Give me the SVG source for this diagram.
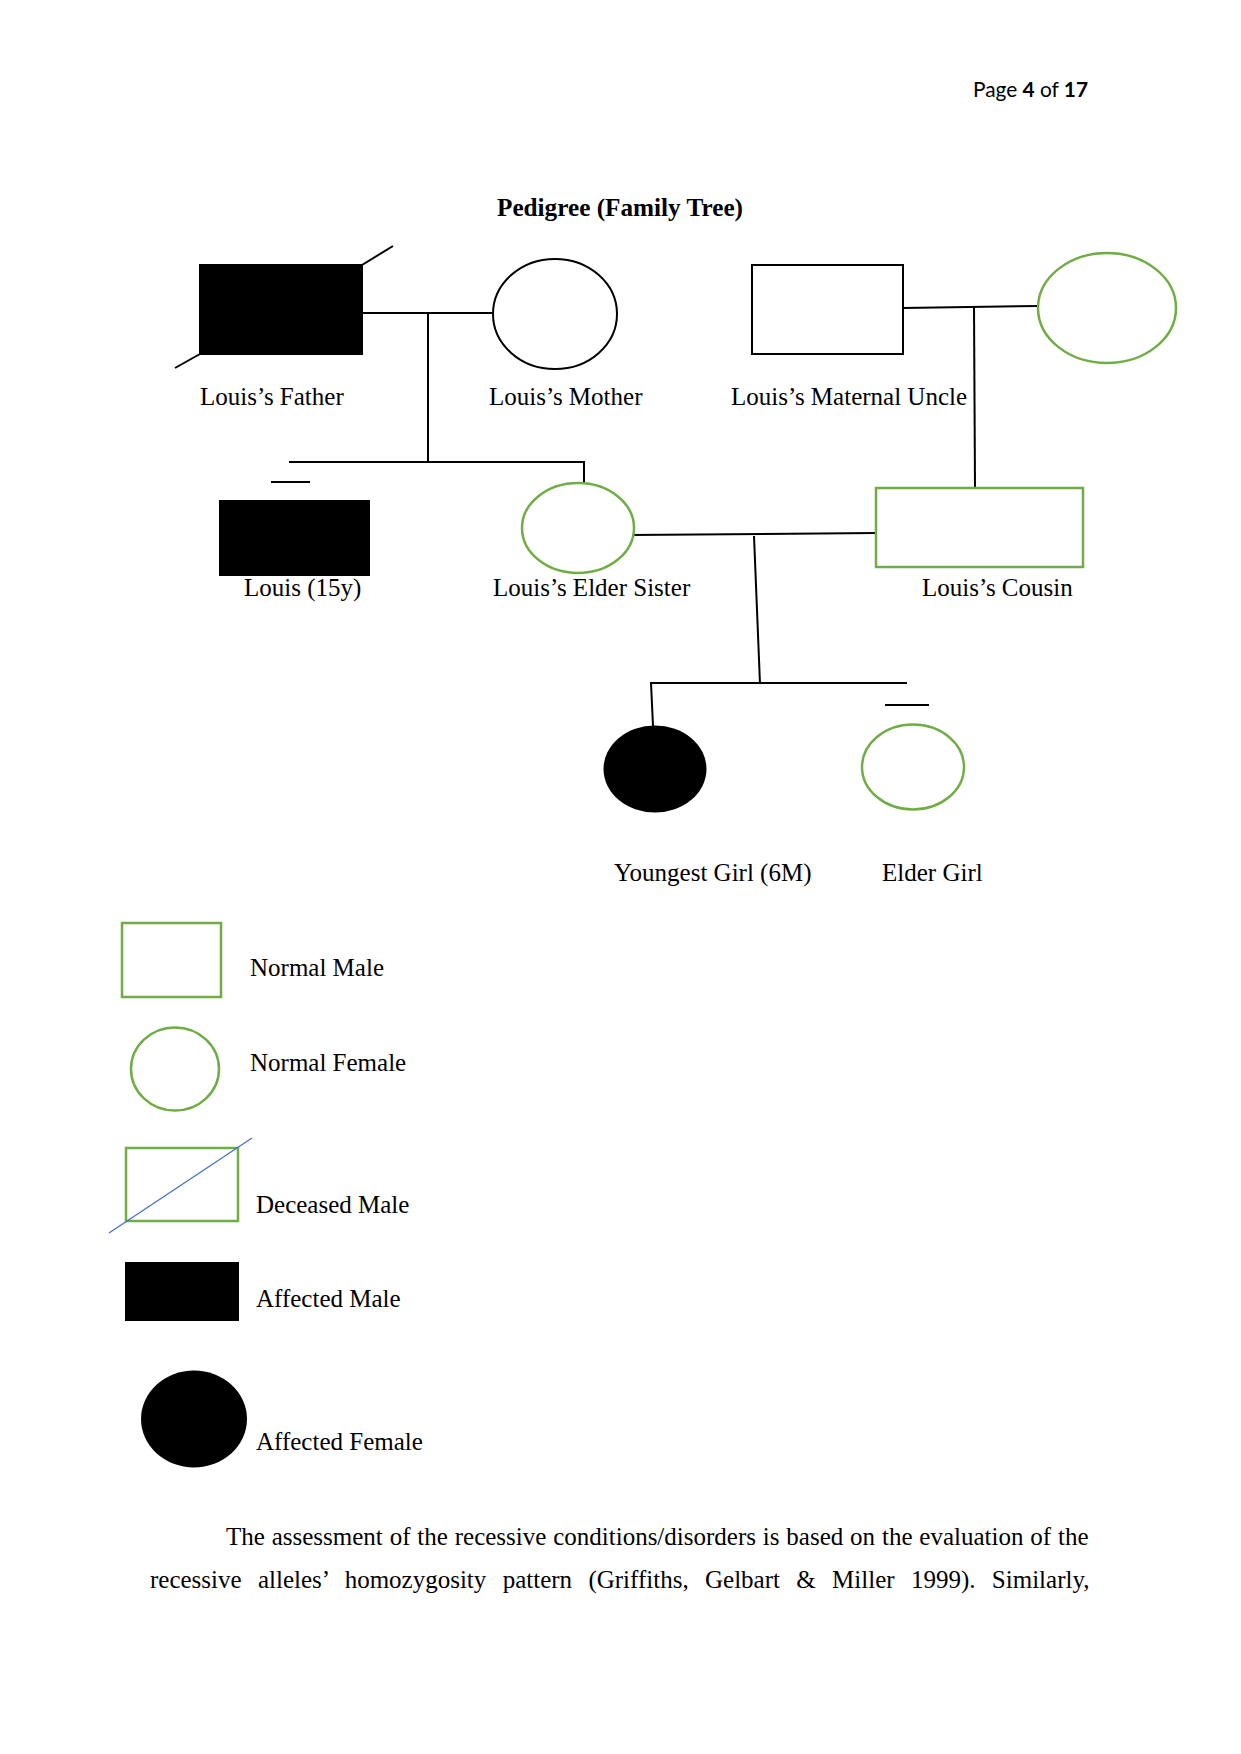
<svg xmlns="http://www.w3.org/2000/svg" width="1241" height="1754" viewBox="0 0 1241 1754">
<style>
.t{font-family:"Liberation Serif","Times New Roman",serif;font-size:25px;fill:#000}
.b{font-weight:bold}
.hd{font-family:Lato,"Liberation Sans",sans-serif;font-size:21px;fill:#000}
.ln{stroke:#000;stroke-width:2;fill:none}
.g{stroke:#70AD47;stroke-width:2.5;fill:#fff}
.k{stroke:#000;stroke-width:2;fill:#fff}
.f{fill:#000;stroke:none}
</style>
<rect width="1241" height="1754" fill="#fff"/>
<text class="hd" x="973" y="97" textLength="115" lengthAdjust="spacingAndGlyphs">Page <tspan font-weight="bold">4</tspan> of <tspan font-weight="bold">17</tspan></text>
<text class="t b" x="497" y="216" textLength="246" lengthAdjust="spacingAndGlyphs">Pedigree (Family Tree)</text>

<g id="connectors">
  <line class="ln" x1="363" y1="313" x2="493" y2="313"/>
  <line class="ln" x1="428" y1="313" x2="428" y2="462"/>
  <polyline class="ln" points="289,462 584,462 584,484"/>
  <line class="ln" x1="903" y1="308" x2="1038" y2="306"/>
  <line class="ln" x1="974" y1="307" x2="975" y2="488"/>
  <line class="ln" x1="630" y1="535" x2="877" y2="533"/>
  <line class="ln" x1="754" y1="536" x2="760" y2="684"/>
  <polyline class="ln" points="653,726 651,683 907,683"/>
</g>

<g id="father">
  <rect class="f" x="199" y="264" width="164" height="91"/>
  <line class="ln" x1="362" y1="265" x2="393" y2="246"/>
  <line class="ln" x1="200" y1="354" x2="175" y2="368"/>
  <text class="t" x="200" y="405">Louis’s Father</text>
</g>
<g id="mother">
  <ellipse class="k" cx="555" cy="314" rx="62" ry="55"/>
  <text class="t" x="489" y="405">Louis’s Mother</text>
</g>
<g id="uncle">
  <rect class="k" x="752" y="265" width="151" height="89"/>
  <text class="t" x="731" y="405">Louis’s Maternal Uncle</text>
</g>
<g id="uncle-wife">
  <ellipse class="g" cx="1107" cy="308" rx="69" ry="55"/>
</g>
<g id="louis">
  <line class="ln" x1="271" y1="482" x2="310" y2="482"/>
  <rect class="f" x="219" y="500" width="151" height="76"/>
  <text class="t" x="244" y="596">Louis (15y)</text>
</g>
<g id="elder-sister">
  <ellipse class="g" cx="578" cy="528" rx="56" ry="45"/>
  <text class="t" x="493" y="596">Louis’s Elder Sister</text>
</g>
<g id="cousin">
  <rect class="g" x="876" y="488" width="207" height="79"/>
  <text class="t" x="922" y="596">Louis’s Cousin</text>
</g>
<g id="youngest-girl">
  <ellipse class="f" cx="655" cy="769" rx="51.5" ry="43.5"/>
  <text class="t" x="614" y="881">Youngest Girl (6M)</text>
</g>
<g id="elder-girl">
  <line class="ln" x1="885" y1="705" x2="929" y2="705"/>
  <ellipse class="g" cx="913" cy="767" rx="51" ry="42.5"/>
  <text class="t" x="882" y="881">Elder Girl</text>
</g>

<g id="legend-normal-male">
  <rect class="g" x="122" y="923" width="99" height="74"/>
  <text class="t" x="250" y="976">Normal Male</text>
</g>
<g id="legend-normal-female">
  <ellipse class="g" cx="175" cy="1069" rx="44" ry="41.5"/>
  <text class="t" x="250" y="1071">Normal Female</text>
</g>
<g id="legend-deceased-male">
  <rect class="g" x="126" y="1148" width="112" height="73"/>
  <line x1="109" y1="1233" x2="252" y2="1138" stroke="#4472C4" stroke-width="1.3"/>
  <text class="t" x="256" y="1213">Deceased Male</text>
</g>
<g id="legend-affected-male">
  <rect class="f" x="125" y="1262" width="114" height="59"/>
  <text class="t" x="256" y="1307">Affected Male</text>
</g>
<g id="legend-affected-female">
  <ellipse class="f" cx="194" cy="1419" rx="53" ry="48.5"/>
  <text class="t" x="256" y="1450">Affected Female</text>
</g>

<text class="t" x="226" y="1545" word-spacing="0.6">The assessment of the recessive conditions/disorders is based on the evaluation of the</text>
<text class="t" x="150" y="1588" word-spacing="10.1">recessive alleles’ homozygosity pattern (Griffiths, Gelbart &amp; Miller 1999). Similarly,</text>
</svg>
